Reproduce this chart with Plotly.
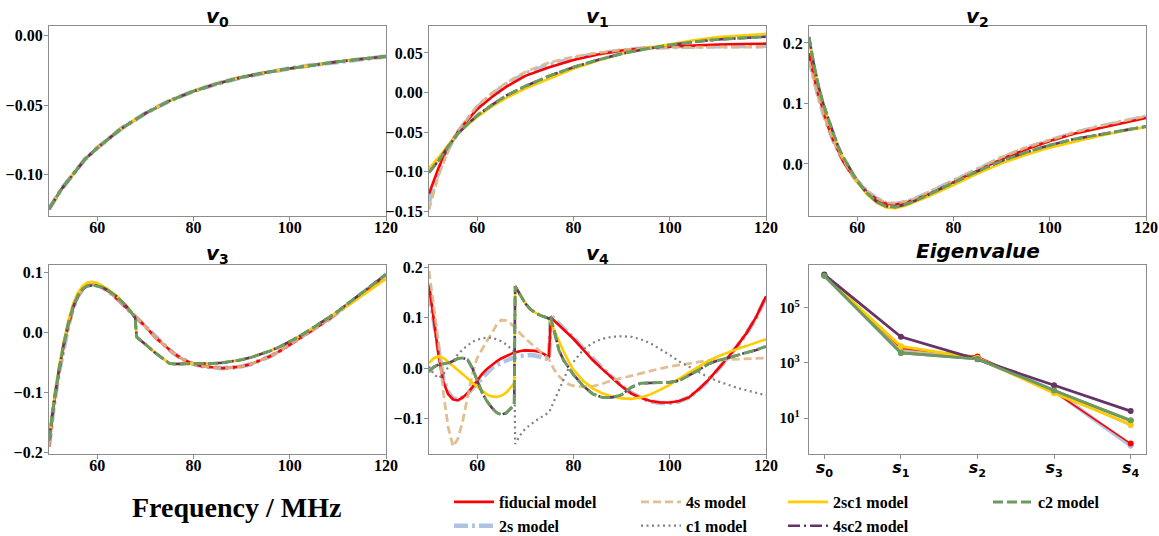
import plotly.graph_objects as go

W, H = 1159, 536

# ---------------- data ----------------
MODELS = ["fiducial model", "2s model", "4s model", "c1 model",
          "2sc1 model", "4sc2 model", "c2 model"]

# v0: every model gives the same mode
V0_FREQ = [50, 52.5, 55, 57.5, 60, 65, 70, 75, 80, 85, 90, 95, 100, 105, 110, 115, 120]
V0_ALL = [-0.125, -0.111, -0.100, -0.089, -0.081, -0.067, -0.056, -0.047, -0.040,
          -0.0345, -0.030, -0.0265, -0.0236, -0.021, -0.0188, -0.0168, -0.0150]

# v1
V1_FREQ = [50, 52, 54, 56, 58, 60, 63, 66, 70, 75, 80, 85, 90, 95, 100, 105, 110, 115, 120]
V1_FIDUCIAL = [-0.128, -0.095, -0.068, -0.050, -0.035, -0.021, -0.006, 0.007, 0.021, 0.032,
               0.041, 0.048, 0.053, 0.056, 0.058, 0.0597, 0.0607, 0.0613, 0.0617]
V1_2S = [-0.138, -0.100, -0.071, -0.050, -0.034, -0.019, -0.003, 0.010, 0.024, 0.035,
         0.043, 0.049, 0.053, 0.056, 0.0575, 0.058, 0.0585, 0.0588, 0.059]
V1_4S = [-0.148, -0.104, -0.073, -0.050, -0.033, -0.017, -0.001, 0.012, 0.026, 0.038,
         0.045, 0.050, 0.054, 0.056, 0.057, 0.057, 0.0572, 0.0573, 0.0575]
V1_C2 = [-0.101, -0.086, -0.068, -0.052, -0.040, -0.029, -0.016, -0.004, 0.008, 0.021,
         0.032, 0.041, 0.049, 0.055, 0.060, 0.064, 0.067, 0.069, 0.0705]
V1_2SC1 = [-0.096, -0.082, -0.066, -0.052, -0.041, -0.031, -0.018, -0.007, 0.005, 0.018,
           0.030, 0.040, 0.049, 0.056, 0.061, 0.066, 0.070, 0.072, 0.074]
V1_4SC2 = V1_C2
V1_C1 = V1_C2

# v2
V2_FREQ = [50, 51, 52, 53, 54, 55, 56, 57, 58, 59, 60, 62, 64, 66, 68, 70, 72, 75,
           80, 85, 90, 95, 100, 105, 110, 115, 120]
V2_FIDUCIAL = [0.183, 0.145, 0.113, 0.085, 0.061, 0.040, 0.022, 0.006, -0.007, -0.019,
               -0.029, -0.046, -0.058, -0.066, -0.067, -0.064, -0.059, -0.049,
               -0.030, -0.010, 0.008, 0.024, 0.038, 0.050, 0.059, 0.068, 0.076]
V2_2S = [0.175, 0.140, 0.110, 0.083, 0.060, 0.040, 0.022, 0.007, -0.006, -0.018,
         -0.028, -0.045, -0.057, -0.065, -0.066, -0.063, -0.058, -0.047,
         -0.028, -0.008, 0.010, 0.026, 0.039, 0.051, 0.061, 0.070, 0.078]
V2_4S = [0.170, 0.137, 0.108, 0.082, 0.060, 0.040, 0.023, 0.008, -0.005, -0.017,
         -0.027, -0.044, -0.056, -0.064, -0.065, -0.062, -0.057, -0.046,
         -0.027, -0.007, 0.011, 0.027, 0.040, 0.052, 0.062, 0.071, 0.079]
V2_C2 = [0.210, 0.165, 0.128, 0.099, 0.075, 0.051, 0.030, 0.013, 0.000, -0.015,
         -0.028, -0.048, -0.062, -0.070, -0.071, -0.067, -0.061, -0.050,
         -0.031, -0.012, 0.005, 0.019, 0.031, 0.041, 0.048, 0.055, 0.062]
V2_2SC1 = [0.205, 0.162, 0.126, 0.097, 0.073, 0.049, 0.028, 0.011, -0.002, -0.017,
           -0.030, -0.050, -0.064, -0.072, -0.073, -0.069, -0.063, -0.053,
           -0.035, -0.016, 0.001, 0.015, 0.027, 0.037, 0.046, 0.054, 0.061]
V2_4SC2 = V2_C2
V2_C1 = V2_C2

# v3
V3_FREQ = [50, 51, 52, 53, 54, 55, 56, 57, 58, 59, 60, 61, 62, 63, 64, 65, 66, 67,
           67.9, 68.2, 69, 70, 72, 74, 75, 76, 78,
           80, 82, 84, 86, 88, 90, 92, 94, 96, 98, 100, 102, 104, 106, 108, 110,
           112, 114, 116, 118, 120]
V3_FIDUCIAL = [-0.191, -0.122, -0.070, -0.025, 0.010, 0.040, 0.060, 0.072, 0.078, 0.080,
               0.079, 0.075, 0.070, 0.064, 0.057, 0.049, 0.041, 0.033,
               0.026, 0.024, 0.018, 0.010, -0.008, -0.022, -0.029, -0.036, -0.046,
               -0.053, -0.057, -0.059, -0.060, -0.059, -0.057, -0.053, -0.047, -0.040,
               -0.031, -0.021, -0.011, -0.001, 0.010, 0.021, 0.033, 0.045, 0.057,
               0.069, 0.082, 0.095]
V3_2S = V3_FIDUCIAL
V3_4S = V3_FIDUCIAL
V3_C2 = [-0.180, -0.118, -0.066, -0.022, 0.014, 0.042, 0.061, 0.072, 0.077, 0.078,
         0.077, 0.075, 0.071, 0.066, 0.060, 0.052, 0.044, 0.034,
         0.024, -0.008, -0.013, -0.020, -0.034, -0.047, -0.052, -0.053, -0.053,
         -0.053, -0.053, -0.052, -0.051, -0.049, -0.046, -0.042, -0.037, -0.031,
         -0.024, -0.016, -0.007, 0.003, 0.013, 0.024, 0.035, 0.047, 0.059,
         0.071, 0.084, 0.097]
V3_2SC1 = [-0.178, -0.115, -0.062, -0.018, 0.018, 0.047, 0.066, 0.077, 0.083, 0.084,
           0.082, 0.078, 0.073, 0.067, 0.061, 0.053, 0.045, 0.035,
           0.025, -0.008, -0.013, -0.020, -0.034, -0.047, -0.052, -0.053, -0.053,
           -0.053, -0.053, -0.052, -0.051, -0.049, -0.046, -0.042, -0.037, -0.031,
           -0.024, -0.016, -0.007, 0.003, 0.013, 0.023, 0.033, 0.044, 0.055,
           0.066, 0.077, 0.089]
V3_4SC2 = V3_C2
V3_C1 = V3_C2

# v4
V4_FREQ = [50, 51, 52, 53, 54, 55, 56, 57, 58, 59, 60, 61, 62, 63, 64, 65, 66, 67,
           67.7, 67.9, 69, 70, 71, 72, 73, 74, 74.9, 75.3, 76, 77, 78, 79, 80,
           82, 84, 86, 88, 90, 92, 94, 96, 98, 100, 102, 104, 106, 108, 110,
           112, 114, 116, 118, 120]
V4_FIDUCIAL = [0.165, 0.100, 0.025, -0.028, -0.052, -0.062, -0.064, -0.058, -0.050, -0.038,
               -0.024, -0.012, -0.002, 0.006, 0.013, 0.019, 0.024, 0.029,
               0.031, 0.031, 0.034, 0.035, 0.035, 0.034, 0.032, 0.027, 0.020, 0.100,
               0.094, 0.085, 0.076, 0.067, 0.058,
               0.037, 0.016, -0.002, -0.019, -0.036, -0.050, -0.059, -0.065, -0.068,
               -0.068, -0.065, -0.058, -0.042, -0.024, -0.003, 0.020, 0.044, 0.070,
               0.102, 0.142]
V4_2S = [0.150, 0.095, 0.028, -0.022, -0.048, -0.060, -0.062, -0.058, -0.051, -0.041,
         -0.030, -0.019, -0.009, 0.000, 0.006, 0.011, 0.015, 0.019,
         0.021, 0.021, 0.024, 0.026, 0.026, 0.025, 0.023, 0.020, 0.016, 0.104,
         0.097, 0.088, 0.078, 0.069, 0.060,
         0.039, 0.018, 0.000, -0.018, -0.035, -0.049, -0.059, -0.066, -0.069,
         -0.069, -0.066, -0.058, -0.043, -0.025, -0.004, 0.019, 0.043, 0.069,
         0.101, 0.140]
V4_4S = [0.192, 0.125, 0.050, -0.050, -0.118, -0.155, -0.140, -0.105, -0.055, -0.012,
         0.020, 0.038, 0.053, 0.068, 0.085, 0.095, 0.094, 0.088,
         0.082, 0.080, 0.068, 0.058, 0.050, 0.042, 0.034, 0.027, 0.018, 0.010,
         -0.003, -0.016, -0.026, -0.032, -0.035,
         -0.037, -0.036, -0.031, -0.024, -0.020, -0.015, -0.011, -0.006, -0.001,
         0.003, 0.006, 0.010, 0.013, 0.015, 0.016, 0.017, 0.018, 0.019,
         0.020, 0.020]
V4_C1 = [0.003, -0.012, -0.020, -0.012, 0.002, 0.015, 0.027, 0.037, 0.045, 0.052,
         0.056, 0.059, 0.060, 0.060, 0.057, 0.053, 0.047, 0.039,
         0.033, -0.150, -0.132, -0.120, -0.112, -0.105, -0.099, -0.094, -0.088, -0.080,
         -0.065, -0.042, -0.020, 0.000, 0.012,
         0.036, 0.050, 0.058, 0.062, 0.063, 0.062, 0.057, 0.049, 0.038,
         0.026, 0.013, 0.003, -0.008, -0.018, -0.026, -0.033, -0.039, -0.044,
         -0.049, -0.054]
V4_2SC1 = [0.010, 0.020, 0.023, 0.020, 0.012, 0.004, -0.003, -0.011, -0.020, -0.029,
           -0.037, -0.045, -0.052, -0.056, -0.057, -0.055, -0.049, -0.038,
           -0.030, 0.162, 0.143, 0.128, 0.117, 0.110, 0.105, 0.101, 0.098, 0.090,
           0.075, 0.052, 0.032, 0.013, -0.003,
           -0.025, -0.040, -0.050, -0.056, -0.060, -0.061, -0.058, -0.052, -0.043,
           -0.033, -0.021, -0.009, 0.003, 0.014, 0.023, 0.031, 0.038, 0.044,
           0.050, 0.057]
V4_C2 = [-0.007, 0.002, 0.007, 0.009, 0.010, 0.014, 0.019, 0.020, 0.017, 0.000,
         -0.025, -0.048, -0.065, -0.078, -0.088, -0.092, -0.089, -0.080,
         -0.073, 0.162, 0.143, 0.128, 0.117, 0.110, 0.105, 0.101, 0.098, 0.100,
         0.072, 0.035, 0.015, 0.000, -0.013,
         -0.035, -0.051, -0.058, -0.058, -0.053, -0.038, -0.030, -0.029, -0.028,
         -0.028, -0.025, -0.015, -0.004, 0.008, 0.015, 0.020, 0.025, 0.030,
         0.036, 0.043]
V4_4SC2 = V4_C2

# eigenvalues
EIG_LABELS = ["s0", "s1", "s2", "s3", "s4"]
EIG_FIDUCIAL = [1.5e6, 3.4e3, 1.7e3, 90, 1.2]
EIG_2S = [1.5e6, 3.0e3, 1.5e3, 100, 1.0]
EIG_4S = [1.5e6, 2.6e3, 1.5e3, 95, 5.5]
EIG_C1 = [1.45e6, 2.3e3, 1.4e3, 100, 8.0]
EIG_2SC1 = [1.5e6, 4.0e3, 1.5e3, 80, 6.0]
EIG_4SC2 = [1.6e6, 8.9e3, 1.35e3, 155, 18]
EIG_C2 = [1.45e6, 2.3e3, 1.4e3, 100, 8.3]

# ---------------- styles ----------------
STYLE = {
    "2s model":       dict(color="#AFC3E2", width=4.5, dash="14px,4px,3px,4px"),
    "fiducial model": dict(color="#FF0000", width=2.6, dash="solid"),
    "4s model":       dict(color="rgba(222,184,135,0.9)", width=2.8, dash="8px,4px"),
    "c1 model":       dict(color="#808080", width=2.2, dash="2px,3.5px"),
    "2sc1 model":     dict(color="#FFCC00", width=2.6, dash="solid"),
    "4sc2 model":     dict(color="#663366", width=2.6, dash="12px,4px,2px,4px"),
    "c2 model":       dict(color="#6B9B5E", width=3.0, dash="10px,4px"),
}
DRAW_ORDER = ["2s model", "fiducial model", "4s model", "c1 model",
              "2sc1 model", "4sc2 model", "c2 model"]
LEGEND_OF = {"fiducial model": ("legend", 1), "2s model": ("legend", 2),
             "4s model": ("legend2", 1), "c1 model": ("legend2", 2),
             "2sc1 model": ("legend3", 1), "4sc2 model": ("legend3", 2),
             "c2 model": ("legend4", 1)}

PANELS = [
    ("v", "0", V0_FREQ, {m: V0_ALL for m in MODELS}),
    ("v", "1", V1_FREQ, {"fiducial model": V1_FIDUCIAL, "2s model": V1_2S, "4s model": V1_4S,
                         "c1 model": V1_C1, "2sc1 model": V1_2SC1, "4sc2 model": V1_4SC2,
                         "c2 model": V1_C2}),
    ("v", "2", V2_FREQ, {"fiducial model": V2_FIDUCIAL, "2s model": V2_2S, "4s model": V2_4S,
                         "c1 model": V2_C1, "2sc1 model": V2_2SC1, "4sc2 model": V2_4SC2,
                         "c2 model": V2_C2}),
    ("v", "3", V3_FREQ, {"fiducial model": V3_FIDUCIAL, "2s model": V3_2S, "4s model": V3_4S,
                         "c1 model": V3_C1, "2sc1 model": V3_2SC1, "4sc2 model": V3_4SC2,
                         "c2 model": V3_C2}),
    ("v", "4", V4_FREQ, {"fiducial model": V4_FIDUCIAL, "2s model": V4_2S, "4s model": V4_4S,
                         "c1 model": V4_C1, "2sc1 model": V4_2SC1, "4sc2 model": V4_4SC2,
                         "c2 model": V4_C2}),
]
EIGS = {"fiducial model": EIG_FIDUCIAL, "2s model": EIG_2S, "4s model": EIG_4S,
        "c1 model": EIG_C1, "2sc1 model": EIG_2SC1, "4sc2 model": EIG_4SC2,
        "c2 model": EIG_C2}

Y_RANGES = [[-0.130, 0.007], [-0.156, 0.084], [-0.086, 0.228],
            [-0.203, 0.112], [-0.170, 0.204]]
Y_DTICK = [0.05, 0.05, 0.1, 0.1, 0.1]
Y_FMT = [".2f", ".2f", ".1f", ".1f", ".1f"]

# pixel boxes of the six panels
COLS = [(49, 386), (429, 766), (809, 1146)]
ROWS = [(26, 216), (265, 454)]

TICK_FONT = dict(family="Liberation Serif", size=16, color="black", weight="bold")
FRAME = "#8c8c8c"

fig = go.Figure()
layout = dict(width=W, height=H,
              margin=dict(l=0, r=0, t=0, b=0, pad=0, autoexpand=False),
              paper_bgcolor="white", plot_bgcolor="white", showlegend=True,
              annotations=[])

for i in range(6):
    r, c = divmod(i, 3)
    x0, x1 = COLS[c]
    y0, y1 = ROWS[r]
    sfx = "" if i == 0 else str(i + 1)
    common = dict(showline=True, mirror=True, linecolor=FRAME, linewidth=1.3,
                  ticks="outside", ticklen=4, tickwidth=1.2, tickcolor=FRAME,
                  showgrid=False, zeroline=False, tickfont=TICK_FONT,
                  automargin=False)
    layout["xaxis" + sfx] = dict(domain=[x0 / W, x1 / W], anchor="y" + sfx,
                                 ticklabelstandoff=-7, **common)
    layout["yaxis" + sfx] = dict(domain=[1 - y1 / H, 1 - y0 / H], anchor="x" + sfx,
                                 ticklabelstandoff=-2, **common)

    if i < 5:
        sym, sub, freq, series = PANELS[i]
        layout["xaxis" + sfx].update(range=[50, 120], tickvals=[60, 80, 100, 120])
        layout["yaxis" + sfx].update(range=Y_RANGES[i], dtick=Y_DTICK[i], tick0=0,
                                     tickformat=Y_FMT[i])
        for m in DRAW_ORDER:
            st = STYLE[m]
            lg, rank = LEGEND_OF[m]
            fig.add_trace(go.Scatter(
                x=freq, y=series[m], mode="lines", name=m,
                line=dict(color=st["color"], width=st["width"], dash=st["dash"]),
                xaxis="x" + sfx, yaxis="y" + sfx, legend=lg, legendrank=rank,
                legendgroup=m, showlegend=(i == 0), hoverinfo="skip"))
        title = f"<b><i>{sym}</i><sub>{sub}</sub></b>"
        ty = 17 if r == 0 else 254
    else:
        layout["xaxis" + sfx].update(type="category", range=[-0.2, 4.2],
                                     tickvals=EIG_LABELS,
                                     ticktext=[f"<b><i>{s[0]}</i><sub>{s[1]}</sub></b>"
                                               for s in EIG_LABELS],
                                     tickfont=dict(family="DejaVu Sans", size=16,
                                                   color="black"),
                                     ticklabelstandoff=-5)
        layout["yaxis" + sfx].update(type="log", range=[-0.30, 6.55],
                                     tickvals=[10, 1e3, 1e5],
                                     ticktext=["10<sup>1</sup>", "10<sup>3</sup>",
                                               "10<sup>5</sup>"],
                                     tickfont=dict(family="Liberation Serif", size=15,
                                                   color="black", weight="bold"),
                                     ticklabelstandoff=1)
        eig_width = {"fiducial model": 1.6, "2s model": 4.0}
        for m in DRAW_ORDER:
            st = STYLE[m]
            lg, rank = LEGEND_OF[m]
            fig.add_trace(go.Scatter(
                x=EIG_LABELS, y=EIGS[m], mode="lines+markers", name=m,
                line=dict(color=st["color"], width=eig_width.get(m, 2.8)),
                marker=dict(color=st["color"], size=6),
                xaxis="x" + sfx, yaxis="y" + sfx, legend=lg, legendrank=rank,
                legendgroup=m, showlegend=False, hoverinfo="skip"))
        title = "<b><i>Eigenvalue</i></b>"
        ty = 251
    layout["annotations"].append(dict(
        text=title, x=(x0 + x1) / 2 / W, y=1 - ty / H, xref="paper", yref="paper",
        xanchor="center", yanchor="middle", showarrow=False,
        font=dict(family="DejaVu Sans", size=20, color="black")))

layout["annotations"].append(dict(
    text="<b>Frequency / MHz</b>", x=236 / W, y=1 - 507 / H, xref="paper", yref="paper",
    xanchor="center", yanchor="middle", showarrow=False,
    font=dict(family="Liberation Serif", size=28, color="black")))

LEG_FONT = dict(family="Liberation Serif", size=16, color="black", weight="bold")
for name, left in [("legend", 449), ("legend2", 636), ("legend3", 783), ("legend4", 988)]:
    layout[name] = dict(xref="paper", yref="paper", x=left / W, y=1 - 485 / H,
                        xanchor="left", yanchor="top", orientation="v",
                        font=LEG_FONT, bgcolor="rgba(0,0,0,0)", itemwidth=40,
                        tracegroupgap=0, traceorder="normal")

fig.update_layout(**layout)
fig.write_html("out.html")
